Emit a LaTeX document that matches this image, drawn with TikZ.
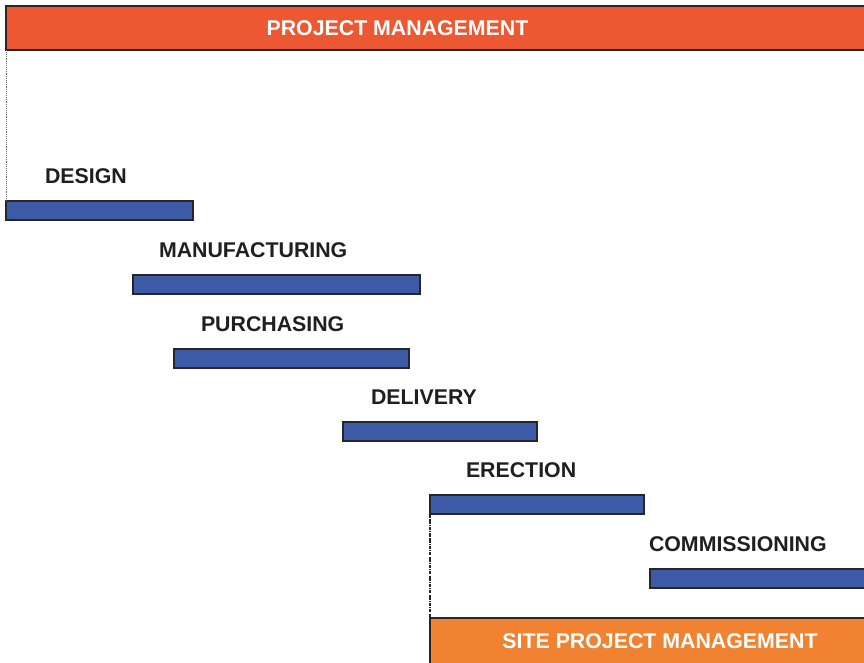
\documentclass[tikz,border=0pt]{standalone}
\usepackage{fontspec}
\setmainfont{Liberation Sans}
\usetikzlibrary{positioning}
\definecolor{pmred}{RGB}{235, 88, 50}
\definecolor{siteorange}{RGB}{240, 130, 50}
\definecolor{taskblue}{RGB}{60, 90, 165}

\begin{document}
\begin{tikzpicture}[
  x=0.03cm,
  y=-0.03cm,
  font=\fontsize{18.2}{20}\selectfont\bfseries,
  every node/.style={inner sep=0pt, outer sep=0pt},
  taskbar/.style={draw=black!85, line width=0.9pt, fill=taskblue, anchor=north west, minimum height=0.57cm},
  mgmtbar/.style={draw=black!85, line width=0.9pt, anchor=north west},
  tasklabel/.style={anchor=base west, text=black!88}
]

\clip (0,0) rectangle (864,662);
\useasboundingbox (0,0) rectangle (864,662);

% management bars
\node[mgmtbar, fill=pmred, minimum width=26.22cm, minimum height=1.32cm] (pm) at (6,6) {};
\node[text=white] (pmtext) at (397.5,28) {PROJECT MANAGEMENT};

\node[mgmtbar, fill=siteorange, minimum width=13.8cm, minimum height=1.56cm,
      text=white] (site) at (430,618) {\raisebox{0.15cm}{SITE PROJECT MANAGEMENT}};

% tasks
\node[taskbar, minimum width=5.61cm] (design) at (6,201) {};
\node[tasklabel] (designlbl) at (45,183) {DESIGN};

\node[taskbar, minimum width=8.61cm] (manuf) at (133,275) {};
\node[tasklabel] (manuflbl) at (159,257) {MANUFACTURING};

\node[taskbar, minimum width=7.05cm] (purch) at (174,349) {};
\node[tasklabel] (purchlbl) at (201,331) {PURCHASING};

\node[taskbar, minimum width=5.82cm] (deliv) at (343,422) {};
\node[tasklabel] (delivlbl) at (371,404) {DELIVERY};

\node[taskbar, minimum width=6.42cm] (erect) at (430,495) {};
\node[tasklabel] (erectlbl) at (466,477) {ERECTION};

\node[taskbar, minimum width=6.9cm] (comm) at (650,569) {};
\node[tasklabel] (commlbl) at (649,551) {COMMISSIONING};

% links
\draw[densely dotted, gray!80!black, line width=0.6pt] (pm.south west) -- (design.north west);
\draw[densely dash dot, black!85, line width=0.9pt] (erect.south west) -- (site.north west);

\end{tikzpicture}
\end{document}
